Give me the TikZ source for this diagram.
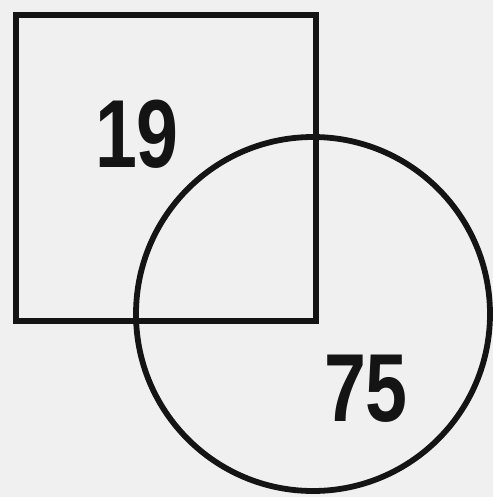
\documentclass[tikz,border=0pt]{standalone}
\usepackage{fontspec}
\setmainfont{Liberation Sans}
\usepackage{tikz}

\definecolor{paper}{RGB}{240,240,240}
\definecolor{ink}{RGB}{20,20,20}

\begin{document}
\begin{tikzpicture}[x=0.02cm, y=-0.02cm,
    every node/.style={font=\bfseries\fontsize{55}{55}\selectfont, inner sep=0pt, text=ink},
    shape line/.style={draw=ink, line width=3.3pt}]
  \fill[paper] (0,0) rectangle (493,497);
  \useasboundingbox (0,0) rectangle (493,497);
  \node[shape line, rectangle, minimum width=300*0.02cm, minimum height=306*0.02cm] (sq) at (166,168) {};
  \node[shape line, circle, minimum size=354*0.02cm] (ci) at (313,314) {};
  \node[xscale=0.78] (n19) at (137,134) {19};
  \node[xscale=0.78] (n75) at (366,389) {75};
\end{tikzpicture}
\end{document}
